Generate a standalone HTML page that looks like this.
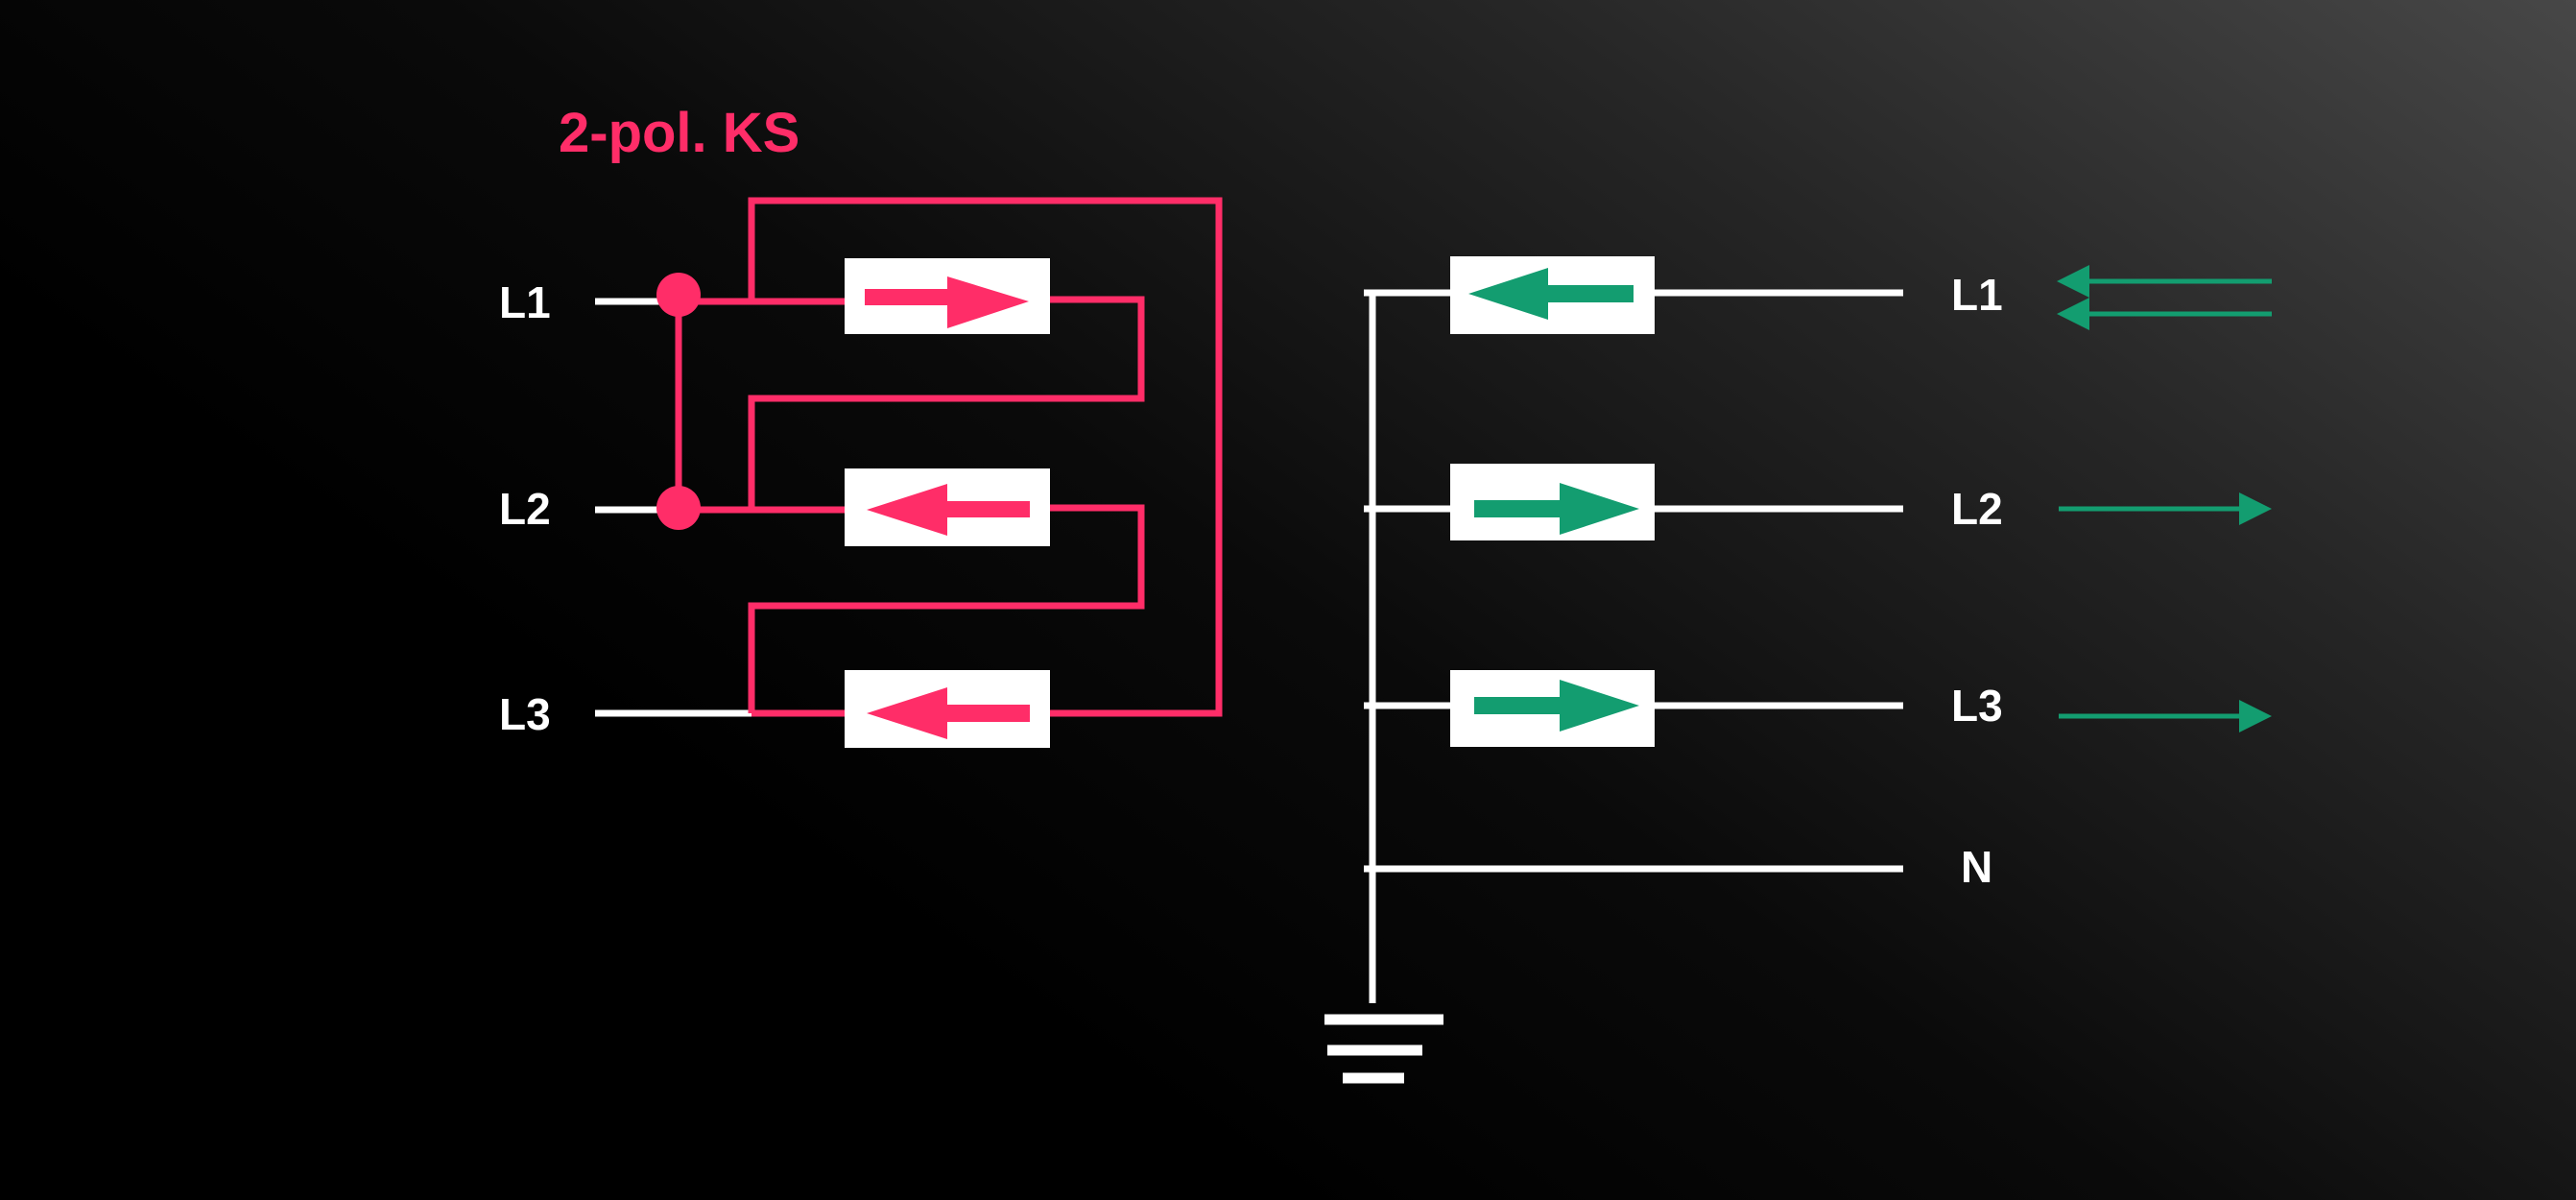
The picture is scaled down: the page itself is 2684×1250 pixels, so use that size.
<!DOCTYPE html>
<html><head><meta charset="utf-8"><style>
html,body{margin:0;padding:0;}
body{width:2684px;height:1250px;overflow:hidden;background:linear-gradient(215deg,#474747 0%,#262626 25%,#0a0a0a 50%,#000 70%);}
svg{position:absolute;left:0;top:0;}
text{font-family:"Liberation Sans",sans-serif;font-weight:bold;}
</style></head><body>
<svg width="2684" height="1250" viewBox="0 0 2684 1250">
<g fill="#ff2d68" stroke="none">
<text x="582" y="158" font-size="58">2-pol. KS</text>
</g>
<g fill="#fff">
<text x="520" y="331" font-size="46">L1</text>
<text x="520" y="546" font-size="46">L2</text>
<text x="520" y="760" font-size="46">L3</text>
<text x="2033" y="323" font-size="46">L1</text>
<text x="2033" y="546" font-size="46">L2</text>
<text x="2033" y="751" font-size="46">L3</text>
<text x="2043" y="919" font-size="46">N</text>
</g>
<g stroke="#fff" stroke-width="7" fill="none">
<line x1="620" y1="314" x2="700" y2="314"/>
<line x1="620" y1="531" x2="700" y2="531"/>
<line x1="620" y1="743" x2="783" y2="743"/>
</g>
<g stroke="#ff2d68" stroke-width="7" fill="none">
<line x1="707" y1="314" x2="707" y2="531"/>
<line x1="707" y1="314" x2="880" y2="314"/>
<line x1="707" y1="531" x2="880" y2="531"/>
<line x1="783" y1="743" x2="880" y2="743"/>
<polyline points="783,314 783,209 1270,209 1270,743 1094,743"/>
<polyline points="1094,312 1189,312 1189,415 783,415 783,531"/>
<polyline points="1094,529 1189,529 1189,631 783,631 783,743"/>
</g>
<g fill="#ff2d68">
<circle cx="707" cy="307" r="23"/>
<circle cx="707" cy="529" r="23"/>
</g>
<g fill="#fff">
<rect x="880" y="269" width="214" height="79"/>
<rect x="880" y="488" width="214" height="81"/>
<rect x="880" y="698" width="214" height="81"/>
</g>
<g fill="#ff2d68">
<polygon points="901,301 987,301 987,288 1072,314 987,342 987,318 901,318"/>
<polygon points="1073,522 987,522 987,504 903,531 987,558 987,539 1073,539"/>
<polygon points="1073,734 987,734 987,716 903,743 987,770 987,752 1073,752"/>
</g>
<g stroke="#fff" stroke-width="7" fill="none">
<line x1="1430" y1="305" x2="1430" y2="1045"/>
<line x1="1421" y1="305" x2="1983" y2="305"/>
<line x1="1421" y1="530" x2="1983" y2="530"/>
<line x1="1421" y1="735" x2="1983" y2="735"/>
<line x1="1421" y1="905" x2="1983" y2="905"/>
<line x1="1380" y1="1062" x2="1504" y2="1062" stroke-width="11"/>
<line x1="1383" y1="1094" x2="1482" y2="1094" stroke-width="11"/>
<line x1="1399" y1="1123" x2="1463" y2="1123" stroke-width="11"/>
</g>
<g fill="#fff">
<rect x="1511" y="267" width="213" height="81"/>
<rect x="1511" y="483" width="213" height="80"/>
<rect x="1511" y="698" width="213" height="80"/>
</g>
<g fill="#139d70">
<polygon points="1702,297 1613,297 1613,279 1530,306 1613,333 1613,315 1702,315"/>
<polygon points="1536,521 1625,521 1625,503 1708,530 1625,557 1625,539 1536,539"/>
<polygon points="1536,726 1625,726 1625,708 1708,735 1625,762 1625,744 1536,744"/>
</g>
<g stroke="#139d70" stroke-width="5" fill="none">
<line x1="2170" y1="293" x2="2367" y2="293"/>
<line x1="2170" y1="327" x2="2367" y2="327"/>
<line x1="2145" y1="530" x2="2340" y2="530"/>
<line x1="2145" y1="746" x2="2340" y2="746"/>
</g>
<g fill="#139d70">
<polygon points="2143,293 2177,276 2177,310"/>
<polygon points="2143,327 2177,310 2177,344"/>
<polygon points="2367,530 2333,513 2333,547"/>
<polygon points="2367,746 2333,729 2333,763"/>
</g>
</svg>
</body></html>
